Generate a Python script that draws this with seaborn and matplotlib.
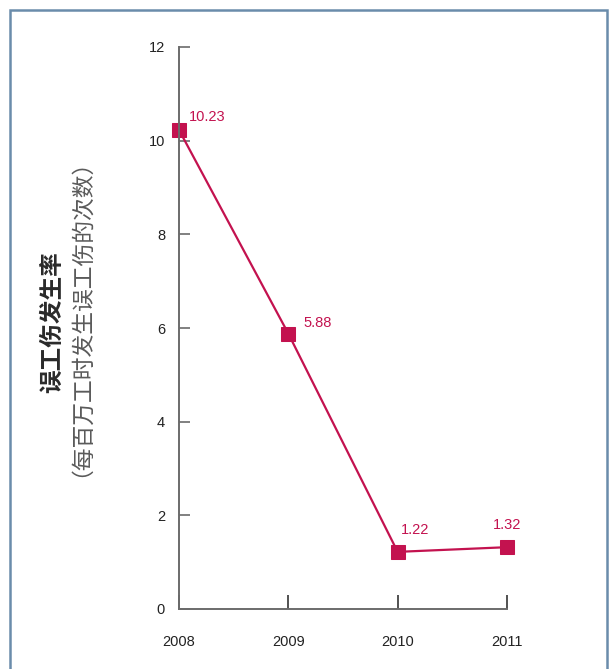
import matplotlib
matplotlib.use("Agg")
import matplotlib.pyplot as plt
import matplotlib.patches as mpatches
import seaborn as sns
import pandas as pd

sns.set_theme(style="white")
plt.rcParams['font.family'] = ['Liberation Sans', 'Noto Sans CJK SC', 'DejaVu Sans']

years = [2008, 2009, 2010, 2011]
rates = [10.23, 5.88, 1.22, 1.32]
value_labels = ["10.23", "5.88", "1.22", "1.32"]
y_ticks = [0, 2, 4, 6, 8, 10, 12]
title_main = "误工伤发生率"
title_sub = "（每百万工时发生误工伤的次数）"

line_color = "#C3124F"
axis_color = "#6B6B6B"

df = pd.DataFrame({"year": years, "rate": rates})

fig = plt.figure(figsize=(6.15, 6.69), dpi=100)
ax = fig.add_axes([179 / 615, 1 - 609 / 669, (507 - 179) / 615, (609 - 47) / 669])

sns.lineplot(data=df, x="year", y="rate", ax=ax, color=line_color, linewidth=1.6,
             marker="s", markersize=10, markeredgecolor=line_color, markerfacecolor=line_color)
for ln in ax.lines:
    ln.set_clip_on(False)

ax.set_xlim(2008, 2011)
ax.set_ylim(0, 12)
ax.set_xticks(years)
ax.set_xticklabels([str(y) for y in years])
ax.set_yticks(y_ticks)
ax.set_yticklabels([str(t) for t in y_ticks])
ax.set_xlabel("")
ax.set_ylabel("")

for side in ["top", "right"]:
    ax.spines[side].set_visible(False)
for side in ["left", "bottom"]:
    ax.spines[side].set_color(axis_color)
    ax.spines[side].set_linewidth(1.4)

ax.tick_params(axis="y", direction="in", length=8, width=1.2, color=axis_color,
               labelsize=10.5, labelcolor="#222222", pad=10, left=True)
ax.tick_params(axis="x", direction="in", length=10, width=1.2, color="#333333",
               labelsize=10.5, labelcolor="#222222", pad=19, bottom=True)
ax.patch.set_alpha(0)

# value labels next to each point
offsets = [(7, 9, "left"), (11, 8, "left"), (2, 16, "left"), (0, 16, "center")]
for x, y, lab, (dx, dy, ha) in zip(years, rates, value_labels, offsets):
    ax.annotate(lab, (x, y), xytext=(dx, dy), textcoords="offset points",
                ha=ha, va="center", color=line_color, fontsize=10.5)

# vertical axis title (two lines)
fig.text(52 / 615, 1 - 322 / 669, title_main, rotation=90, ha="center", va="center",
         fontsize=17, fontweight="bold", color="#2A2A2A",
         family=['Noto Sans CJK SC', 'DejaVu Sans'])
fig.text(69 / 615, 1 - 306 / 669, title_sub, rotation=90, ha="center", va="center",
         fontsize=16.4, color="#5A5A5A", fontweight="light",
         family=['Noto Sans CJK SC', 'DejaVu Sans'])

# outer frame
frame = mpatches.Rectangle((10 / 615, -0.1), (607 - 10) / 615, (669 - 10) / 669 + 0.1,
                           transform=fig.transFigure, fill=False,
                           edgecolor="#6A8CAB", linewidth=1.8, clip_on=False)
fig.patches.append(frame)

fig.savefig("out.png", dpi=100)
